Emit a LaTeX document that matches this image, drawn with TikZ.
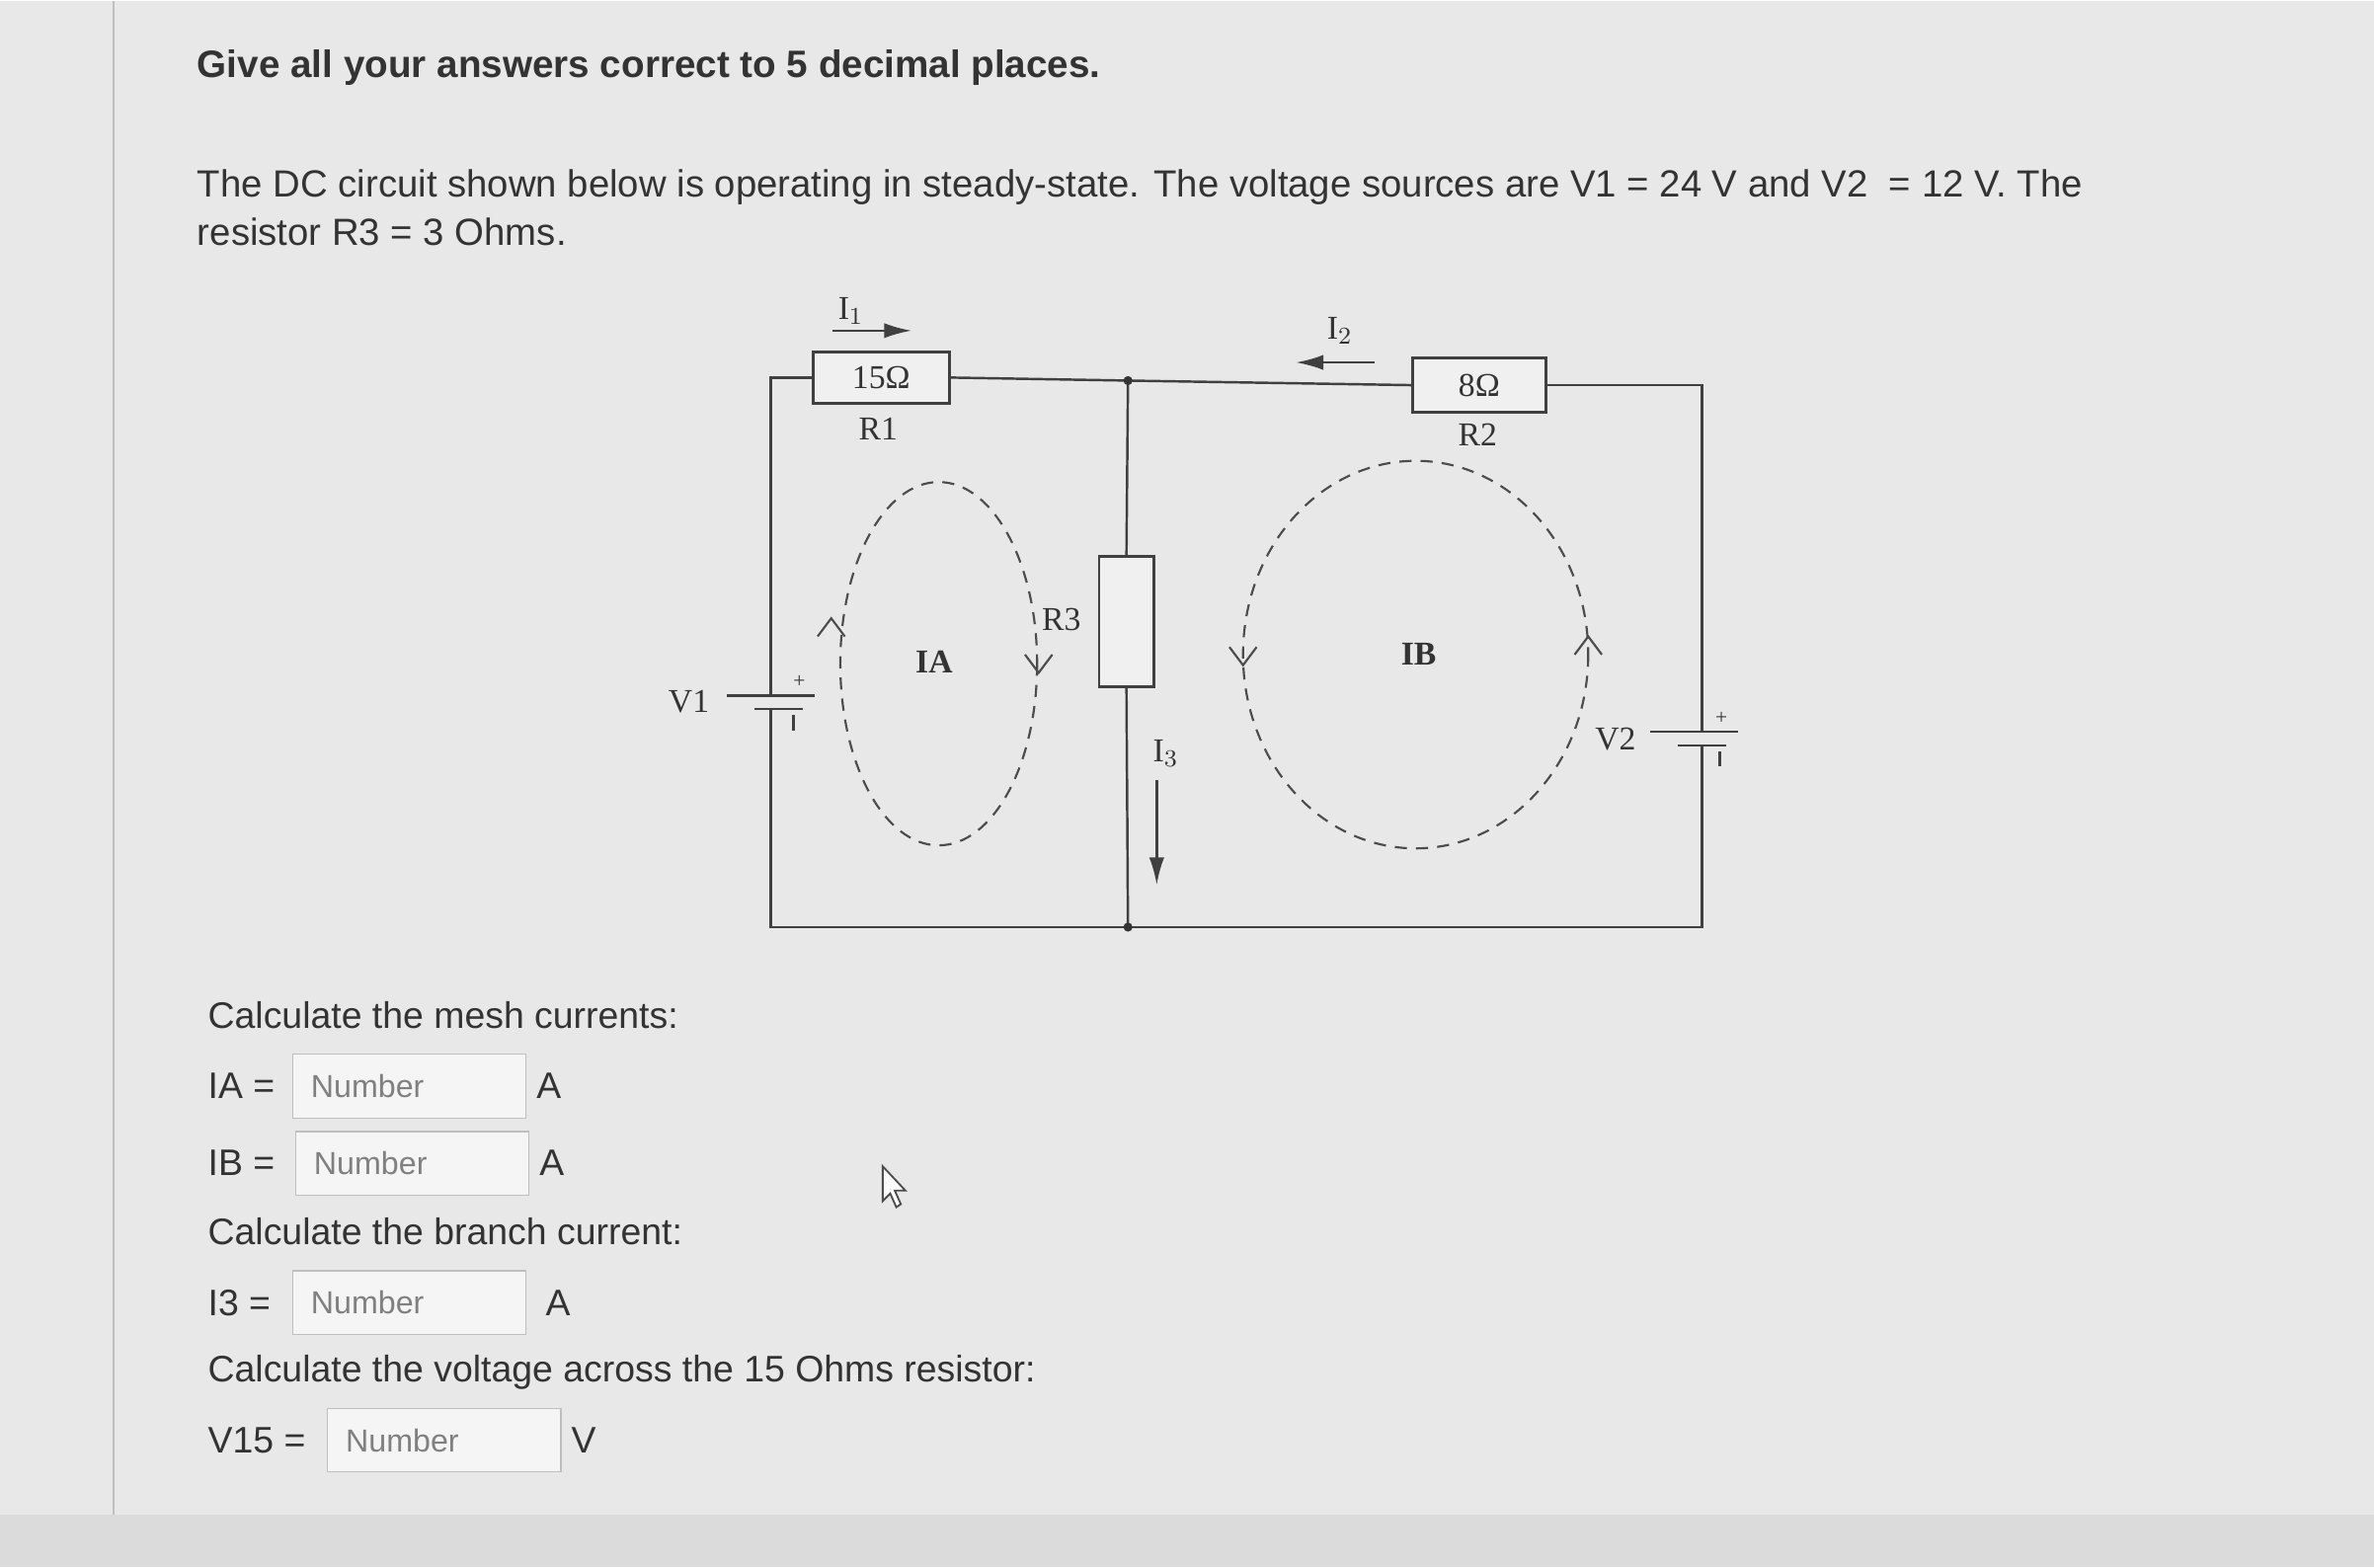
\documentclass[tikz,border=0pt]{standalone}
\usepackage{fontspec}
\setmainfont{Liberation Sans}
\newfontfamily\ser{Liberation Serif}
\usetikzlibrary{arrows.meta}
\begin{document}
\begin{tikzpicture}[x=0.5pt,y=-0.5pt,
  wire/.style={draw=black!75,line width=0.8pt},
  box/.style={draw=black!75,line width=0.9pt,fill=black!6},
  lab/.style={font=\ser\fontsize{11}{13}\selectfont,text=black!80},
  txt/.style={font=\fontsize{12.2}{14}\selectfont,text=black!80,anchor=west,inner sep=0},
  field/.style={draw=black!25,fill=black!4,inner xsep=6pt,inner ysep=0pt,text width=65pt,align=left,minimum height=21pt,font=\fontsize{10.5}{12}\selectfont,text=black!50,anchor=west},
  loopline/.style={draw=black!70,dashed,dash pattern=on 4pt off 3pt,line width=0.7pt},
  chev/.style={draw=black!70,line width=0.7pt}]
\fill[black!9] (0,0) rectangle (1568,1035);
\fill[black!14] (0,1000) rectangle (1568,1035);
\draw[black!25] (75,0) -- (75,1000);
\node[txt,font=\bfseries\fontsize{12.6}{14}\selectfont] (t1) at (130,44) {Give all your answers correct to 5 decimal places.};
\node[txt,font=\fontsize{12.5}{14}\selectfont] (t2) at (130,123) {The DC circuit shown below is operating in steady-state. The voltage sources are V1 = 24 V and V2 \ = 12 V. The};
\node[txt,font=\fontsize{12.5}{14}\selectfont] (t3) at (130,153) {resistor R3 = 3 Ohms.};
% circuit
\coordinate (tl) at (509,249); \coordinate (n1) at (745,251); \coordinate (tr) at (1124,254);
\coordinate (bl) at (509,612); \coordinate (n2) at (745,612); \coordinate (br) at (1124,612);
\node[box,minimum width=45pt,minimum height=17pt,lab] (r1) at (582,249) {15Ω};
\node[box,minimum width=44pt,minimum height=18pt,lab] (r2) at (977,254) {8Ω};
\node[box,minimum width=18pt,minimum height=43pt] (r3) at (744,410) {};
\draw[wire] (r1.west) -- (tl) -- (509,458);
\draw[wire] (509,468) -- (bl) -- (br) -- (1124,492);
\draw[wire] (1124,482) -- (tr) -- (r2.east);
\draw[wire] (r1.east) -- (n1) -- (r2.west);
\draw[wire] (n1) -- (r3.north); \draw[wire] (r3.south) -- (n2);
\fill[black!80] (n1) circle (3) (n2) circle (3);
% batteries
\draw[wire] (480,459) -- (538,459); \draw[wire] (498,468) -- (530,468);
\draw[wire] (524,472) -- (524,482);
\node[lab] (v1) at (455,463) {V1};
\node[lab,font=\ser\fontsize{7}{8}\selectfont] (p1) at (528,450) {+};
\draw[wire] (1090,483) -- (1148,483); \draw[wire] (1108,492) -- (1140,492);
\draw[wire] (1136,496) -- (1136,506);
\node[lab] (v2) at (1067,488) {V2};
\node[lab,font=\ser\fontsize{7}{8}\selectfont] (p2) at (1137,474) {+};
% labels
\node[lab] (lr1) at (580,283) {R1};
\node[lab] (lr2) at (976,287) {R2};
\node[lab] (lr3) at (701,409) {R3};
\node[lab,font=\ser\bfseries\fontsize{11}{13}\selectfont] (ia) at (617,437) {IA};
\node[lab,font=\ser\bfseries\fontsize{11}{13}\selectfont] (ib) at (937,432) {IB};
\node[lab] (i1) at (562,205) {I$_1$};
\node[lab] (i2) at (885,218) {I$_2$};
\node[lab] (i3) at (770,497) {I$_3$};
\coordinate (a1s) at (550,218); \coordinate (a1e) at (602,218);
\draw[wire,-{Latex[length=9pt,width=5pt]}] (a1s) -- (a1e);
\coordinate (a2s) at (908,239); \coordinate (a2e) at (856,239);
\draw[wire,-{Latex[length=9pt,width=5pt]}] (a2s) -- (a2e);
\coordinate (a3s) at (764,515); \coordinate (a3e) at (764,584);
\draw[wire,-{Latex[length=9pt,width=5pt]}] (a3s) -- (a3e);
% mesh loops
\draw[loopline] (620,438) ellipse [x radius=65,y radius=120];
\draw[loopline] (935,432) ellipse [x radius=114,y radius=128];
\draw[chev] (540,420) -- (549,408) -- (558,420);
\draw[chev] (677,432) -- (686,444) -- (695,432);
\draw[chev] (812,427) -- (821,439) -- (830,427);
\draw[chev] (1040,432) -- (1049,420) -- (1058,432);
% form
\node[txt] (q1) at (137,670) {Calculate the mesh currents:};
\node[txt] (la) at (137,717) {IA =};
\node[field] (fa) at (193,717) {Number};
\node[txt] (ua) at (354,717) {A};
\node[txt] (lb) at (137,768) {IB =};
\node[field] (fb) at (195,768) {Number};
\node[txt] (ub) at (356,768) {A};
\node[txt] (q2) at (137,813) {Calculate the branch current:};
\node[txt] (l3) at (137,860) {I3 =};
\node[field] (f3) at (193,860) {Number};
\node[txt] (u3) at (360,860) {A};
\node[txt] (q3) at (137,906) {Calculate the voltage across the 15 Ohms resistor:};
\node[txt] (l15) at (137,951) {V15 =};
\node[field] (f15) at (216,951) {Number};
\node[txt] (u15) at (377,951) {V};
% cursor
\draw[black!70,fill=white,line width=0.6pt] (583,770) -- (583,793) -- (588,788) -- (592,797) -- (595,795) -- (591,786) -- (598,786) -- cycle;
\end{tikzpicture}
\end{document}
